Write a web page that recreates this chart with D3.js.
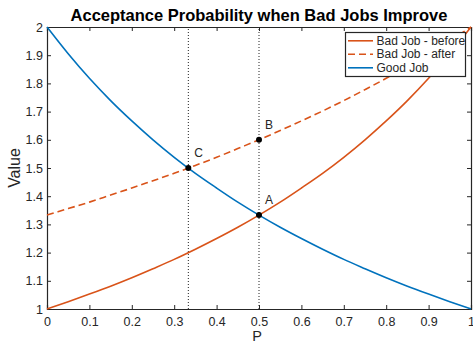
<!DOCTYPE html>
<html>
<head>
<meta charset="utf-8">
<script src="https://cdn.jsdelivr.net/npm/d3@7"></script>
<style>
  body { margin: 0; background: #fff; }
  text { font-family: "Liberation Sans", Arial, Helvetica, sans-serif; fill: #262626; }
</style>
</head>
<body>
<div id="content"></div>
<script>
// values
var pValues = [0, 0.05, 0.1, 0.15, 0.2, 0.25, 0.3, 0.35, 0.4, 0.45, 0.5,
               0.55, 0.6, 0.65, 0.7, 0.75, 0.8, 0.85, 0.9, 0.95, 1];
var badBefore = [1, 1.026, 1.053, 1.081, 1.111, 1.143, 1.176, 1.212, 1.25, 1.29, 1.333,
                 1.379, 1.429, 1.481, 1.538, 1.6, 1.667, 1.739, 1.818, 1.905, 2];
var badAfter = [1.333, 1.356, 1.379, 1.404, 1.429, 1.455, 1.481, 1.509, 1.538, 1.569, 1.6,
                1.633, 1.667, 1.702, 1.739, 1.778, 1.818, 1.86, 1.905, 1.951, 2];
var goodJob = [2, 1.905, 1.818, 1.739, 1.667, 1.6, 1.538, 1.481, 1.429, 1.379, 1.333,
               1.29, 1.25, 1.212, 1.176, 1.143, 1.111, 1.081, 1.053, 1.026, 1];
var xTicks = [0, 0.1, 0.2, 0.3, 0.4, 0.5, 0.6, 0.7, 0.8, 0.9, 1];
var yTicks = [1, 1.1, 1.2, 1.3, 1.4, 1.5, 1.6, 1.7, 1.8, 1.9, 2];
var vLines = [1 / 3, 0.5];
var marked = [
    {p: 1 / 3, v: 1.5, label: 'C'},
    {p: 0.5, v: 1.333, label: 'A'},
    {p: 0.5, v: 1.6, label: 'B'}
];
var seriesNames = ['Bad Job - before', 'Bad Job - after', 'Good Job'];

var orange = '#D95319', blue = '#0072BD';
var width = 473, height = 344;
// plot box edges (note: "top" is reserved on window, so prefix these)
var plotL = 47, plotR = 471, plotT = 27, plotB = 309;

var svg = d3.select('#content').append('svg')
    .attr('width', width)
    .attr('height', height);

var x = d3.scaleLinear().domain([0, 1]).range([plotL, plotR]);
var y = d3.scaleLinear().domain([1, 2]).range([plotB, plotT]);

// axes, MATLAB style: ticks pointing inward on all four sides
var tickLen = 4;
svg.append('g').attr('transform', 'translate(0,' + plotB + ')')
    .call(d3.axisBottom(x).tickValues(xTicks).tickSize(-tickLen).tickPadding(8)
        .tickFormat(d3.format('')));
svg.append('g').attr('transform', 'translate(' + plotL + ',0)')
    .call(d3.axisLeft(y).tickValues(yTicks).tickSize(-tickLen).tickPadding(4)
        .tickFormat(d3.format('')));
svg.append('g').attr('transform', 'translate(0,' + plotT + ')')
    .call(d3.axisTop(x).tickValues(xTicks).tickSize(-tickLen).tickFormat(''));
svg.append('g').attr('transform', 'translate(' + plotR + ',0)')
    .call(d3.axisRight(y).tickValues(yTicks).tickSize(-tickLen).tickFormat(''));

svg.selectAll('.domain').attr('stroke', '#262626').attr('stroke-width', 1.2);
svg.selectAll('.tick line').attr('stroke', '#262626').attr('stroke-width', 1);
svg.selectAll('.tick text').attr('font-size', 12.5).style('fill', '#262626')
    .attr('font-family', '"Liberation Sans", Arial, sans-serif');

// dotted guides
svg.selectAll('.guide').data(vLines).enter().append('line')
    .attr('x1', function(d) { return x(d); })
    .attr('x2', function(d) { return x(d); })
    .attr('y1', y(1)).attr('y2', y(2))
    .attr('stroke', '#222').attr('stroke-width', 1)
    .attr('stroke-dasharray', '1,2');

var line = d3.line()
    .x(function(d, i) { return x(pValues[i]); })
    .y(function(d) { return y(d); })
    .curve(d3.curveMonotoneX);

var series = [
    {values: badBefore, color: orange, dash: null},
    {values: badAfter, color: orange, dash: '7,4'},
    {values: goodJob, color: blue, dash: null}
];

svg.selectAll('.series').data(series).enter().append('path')
    .attr('d', function(d) { return line(d.values); })
    .attr('fill', 'none')
    .attr('stroke', function(d) { return d.color; })
    .attr('stroke-width', 1.6)
    .attr('stroke-dasharray', function(d) { return d.dash; });

// marked points
svg.selectAll('.pt').data(marked).enter().append('circle')
    .attr('cx', function(d) { return x(d.p); })
    .attr('cy', function(d) { return y(d.v); })
    .attr('r', 3)
    .attr('fill', '#000');
svg.selectAll('.ptlabel').data(marked).enter().append('text')
    .attr('x', function(d) { return x(d.p) + 6; })
    .attr('y', function(d) { return y(d.v) - 11; })
    .attr('font-size', 12)
    .text(function(d) { return d.label; });

// legend
var lg = svg.append('g');
lg.append('rect')
    .attr('x', 345.5).attr('y', 32.5).attr('width', 120).attr('height', 44)
    .attr('fill', '#fff').attr('stroke', '#262626').attr('stroke-width', 1.2);
seriesNames.forEach(function(name, i) {
    var ly = 40.8 + i * 13.5;
    lg.append('line')
        .attr('x1', 348).attr('x2', 373).attr('y1', ly).attr('y2', ly)
        .attr('stroke', series[i].color).attr('stroke-width', 1.6)
        .attr('stroke-dasharray', series[i].dash);
    lg.append('text')
        .attr('x', 376.5).attr('y', ly + 4)
        .attr('font-size', 12)
        .text(name);
});

// title and labels
svg.append('text')
    .attr('x', 259).attr('y', 21)
    .attr('text-anchor', 'middle')
    .attr('font-size', 16.5).attr('font-weight', 'bold')
    .style('fill', '#000')
    .text('Acceptance Probability when Bad Jobs Improve');
svg.append('text')
    .attr('x', 257).attr('y', 341)
    .attr('text-anchor', 'middle')
    .attr('font-size', 14.5)
    .text('P');
svg.append('text')
    .attr('transform', 'translate(20,' + ((plotT + plotB) / 2) + ') rotate(-90)')
    .attr('text-anchor', 'middle')
    .attr('font-size', 16)
    .text('Value');
</script>
</body>
</html>
